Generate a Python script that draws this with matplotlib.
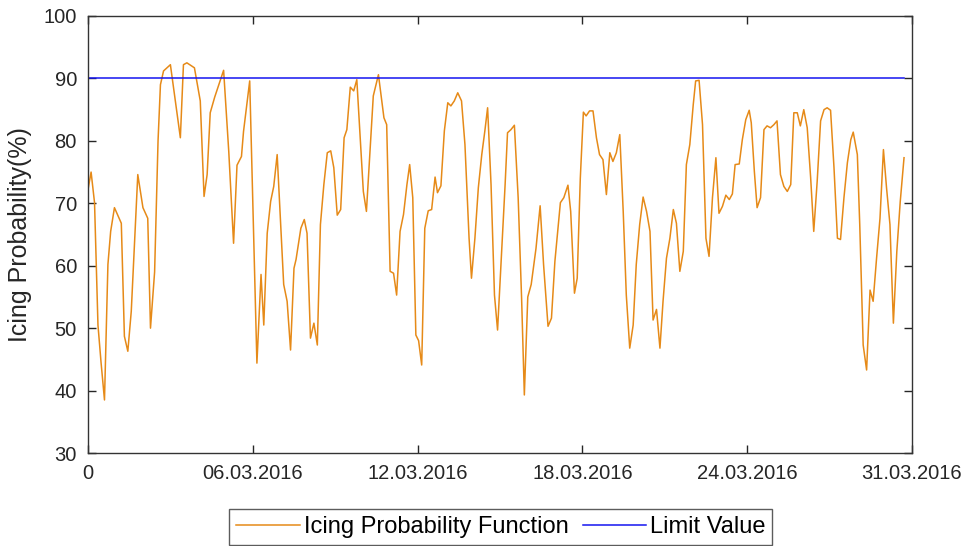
import matplotlib
matplotlib.use("Agg")
from matplotlib import pyplot as plt

plt.rcParams['font.family'] = ['Liberation Sans', 'DejaVu Sans']

# sample position (3-hourly steps from start of month) and icing probability in %
idx = [0, 0.9, 1.9, 2.9, 3.8, 4.8, 5.8, 6.6, 7.7, 9.7, 10.6, 11.6, 12.6, 14.5, 16.0,
       17.4, 18.2, 19.4, 20.4, 21.1, 22.0, 24.0, 25.2, 26.9, 27.8, 28.8, 31.0, 32.7,
       33.8, 34.7, 35.6, 36.9, 39.5, 41.0, 42.4, 43.4, 44.7, 45.3, 47.1, 49.2,
       50.4, 51.2, 52.2, 53.2, 54.1, 55.1, 57.0, 58.0, 59.0, 60.0, 60.6, 62.0, 63.0,
       63.8, 64.8, 65.8, 66.8, 67.7, 68.7, 69.7, 70.7, 71.6, 72.6, 73.6, 74.6, 75.4,
       76.4, 77.4, 78.3, 80.2, 81.1, 83.1, 84.6, 86.2, 87.0, 88.0, 89.0, 89.9, 90.9,
       91.9, 92.9, 93.7, 94.6, 95.5, 96.3, 97.2, 98.1, 99.1, 100.1, 101.1, 101.8,
       102.8, 103.8, 104.8, 105.7, 106.7, 107.7, 108.8, 109.8, 111.0, 111.7, 112.7,
       113.7, 114.7, 115.6, 116.4, 117.4, 118.4, 119.3, 120.5, 121.5, 122.2, 123.2,
       124.2, 125.3, 126.3, 127.1, 128.1, 129.1, 130.5, 131.7, 132.7, 134.0, 135.0,
       136.0, 136.9, 137.6, 138.6, 139.8, 140.6, 141.7, 142.5, 143.4, 144.3, 145.1,
       146.1, 147.1, 148.1, 149.0, 150.0, 151.0, 152.0, 152.9, 153.9, 154.9, 155.9,
       156.8, 157.8, 158.8, 159.7, 160.7, 161.7, 162.7, 163.7, 164.6, 165.6, 166.6,
       167.5, 168.5, 169.5, 170.5, 171.4, 172.4, 173.4, 174.3, 175.3, 176.3, 177.0,
       178.0, 179.0, 180.0, 180.9, 181.9, 182.9, 183.8, 184.8, 185.8, 186.8, 187.7,
       188.5, 189.7, 190.6, 191.6, 192.6, 193.2, 194.1, 194.9, 195.9, 196.9, 197.8,
       198.8, 199.8, 200.7, 201.7, 202.7, 203.7, 204.7, 205.6, 206.6, 207.5, 208.5,
       209.5, 210.5, 211.4, 212.4, 213.4, 214.4, 215.3, 216.3, 217.3, 218.3, 219.2,
       220.2, 221.2, 222.2, 222.9, 224.1, 224.8, 225.8, 226.8, 227.8, 228.7, 229.7,
       230.7, 231.7, 232.6, 233.6, 234.6, 235.6, 236.6, 237.7]
prob = [72.2, 75.0, 70.1, 50.5, 44.5, 38.5, 60.2, 65.5, 69.3, 66.8, 48.7, 46.3, 52.7, 74.6, 69.3,
        67.6, 50.0, 59.0, 80.0, 89.0, 91.2, 92.2, 87.4, 80.5, 92.2, 92.5, 91.7, 86.4,
        71.1, 74.6, 84.5, 87.0, 91.3, 78.3, 63.6, 76.1, 77.5, 81.5, 89.6, 44.4,
        58.6, 50.5, 65.2, 70.3, 72.7, 77.8, 57.0, 54.3, 46.5, 59.6, 61.0, 66.0, 67.4,
        65.2, 48.4, 50.8, 47.3, 66.6, 73.0, 78.1, 78.4, 75.7, 68.1, 69.0, 80.5, 81.8,
        88.6, 88.0, 89.8, 71.9, 68.7, 87.2, 90.6, 83.7, 82.6, 59.1, 58.8, 55.3, 65.5,
        68.2, 73.0, 76.2, 70.9, 48.9, 48.0, 44.1, 66.0, 68.8, 69.0, 74.2, 71.7,
        72.8, 81.6, 86.1, 85.6, 86.4, 87.7, 86.4, 79.4, 64.4, 58.0, 64.4,
        72.5, 77.8, 81.6, 85.3, 73.0, 55.3, 49.7, 62.3, 73.0, 81.3, 81.8,
        82.5, 70.9, 54.8, 39.3, 55.0, 57.0, 62.8, 69.6, 60.2, 50.3, 51.6,
        60.7, 66.0, 70.1, 70.9, 72.9, 68.7, 55.6, 58.0, 74.0, 84.6, 84.0,
        84.8, 84.8, 80.5, 77.8, 77.0, 71.4, 78.1, 76.7, 78.1, 81.0, 68.7,
        55.3, 46.8, 50.5, 60.2, 66.6, 71.0, 68.7, 65.5, 51.3, 53.0, 46.8,
        54.3, 61.2, 64.4, 69.0, 66.8, 59.1, 62.3, 76.2, 79.4, 85.8, 89.6,
        89.7, 82.6, 64.4, 61.5, 70.9, 77.3, 68.4, 69.5, 71.3, 70.6, 71.5,
        76.2, 76.3, 80.2, 83.4, 84.9, 82.9, 75.1, 69.3, 70.9, 81.8, 82.4,
        82.1, 82.6, 83.2, 74.6, 72.7, 71.9, 73.0, 84.5, 84.5, 82.4, 85.0,
        82.1, 74.1, 65.5, 73.5, 83.2, 85.0, 85.3, 84.9, 75.7, 64.4, 64.2,
        70.9, 76.5, 80.2, 81.4, 77.8, 66.6, 47.3, 43.3, 56.1, 54.3, 61.2,
        67.6, 78.6, 72.5, 66.6, 50.8, 62.3, 70.3, 77.3]
limit = 90

tick_pos = [0, 48, 96, 144, 192, 240]
tick_labels = ['0', '06.03.2016', '12.03.2016', '18.03.2016', '24.03.2016', '31.03.2016']

fig = plt.figure(figsize=(9.65, 5.46), dpi=100)
ax = fig.add_axes([0.0912, 0.1703, 0.8538, 0.8004])

ax.plot(idx, prob, color='#E68A18', linewidth=1.1, label='Icing Probability Function')
ax.plot([idx[0], idx[-1]], [limit, limit], color='#1515F0', linewidth=1.1, label='Limit Value')

ax.set_xlim(0, 240)
ax.set_ylim(30, 100)
ax.set_xticks(tick_pos)
ax.set_xticklabels(tick_labels)
ax.set_yticks(range(30, 101, 10))

ax.tick_params(direction='in', length=6, width=1, top=True, right=True,
               labelsize=14.5, colors='#262626', pad=8)
for s in ax.spines.values():
    s.set_color('#333333')
    s.set_linewidth(1.0)

ax.set_ylabel('Icing Probability(%)', fontsize=18, color='#262626', labelpad=8)

leg = fig.legend(loc='upper center', bbox_to_anchor=(0.519, 0.068), ncol=2,
                 fontsize=17, frameon=True, fancybox=False, handlelength=2.7,
                 handletextpad=0.15, columnspacing=0.6, borderpad=0.3,
                 borderaxespad=0)
leg.get_frame().set_edgecolor('#333333')
leg.get_frame().set_linewidth(1.0)

fig.savefig('out.png', dpi=100)
